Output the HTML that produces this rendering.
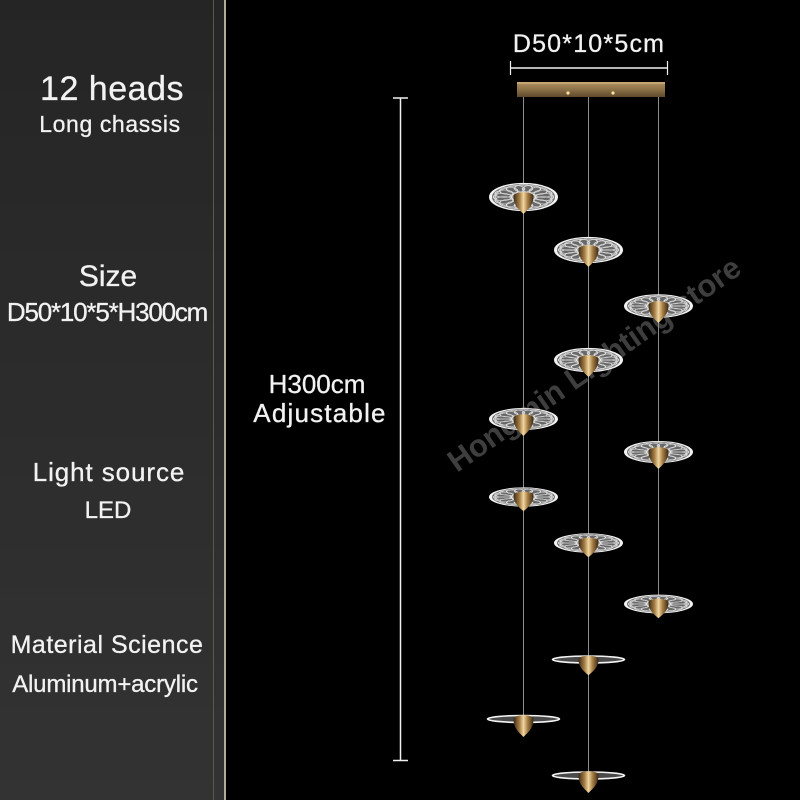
<!DOCTYPE html>
<html>
<head>
<meta charset="utf-8">
<style>
html,body{margin:0;padding:0;background:#000;}
svg{display:block;}
text{font-family:"Liberation Sans",sans-serif;fill:#f2f2f2;}
</style>
</head>
<body>
<svg width="800" height="800" viewBox="0 0 800 800" xmlns="http://www.w3.org/2000/svg">
<defs>
  <linearGradient id="panel" x1="0" y1="0" x2="0" y2="1">
    <stop offset="0" stop-color="#252525"/>
    <stop offset="1" stop-color="#333333"/>
  </linearGradient>
  <linearGradient id="gold" x1="0" y1="0" x2="1" y2="0">
    <stop offset="0" stop-color="#3a2a14"/>
    <stop offset="0.3" stop-color="#a57d45"/>
    <stop offset="0.5" stop-color="#f0d7a2"/>
    <stop offset="0.7" stop-color="#a98046"/>
    <stop offset="1" stop-color="#3a2812"/>
  </linearGradient>
  <linearGradient id="bar" x1="0" y1="0" x2="0" y2="1">
    <stop offset="0" stop-color="#b09060"/>
    <stop offset="0.5" stop-color="#8c7248"/>
    <stop offset="1" stop-color="#5e4a2c"/>
  </linearGradient>
  <g id="lace">
    <circle r="34" fill="#686868"/>
    <circle r="28" fill="none" stroke="#c8c8c8" stroke-width="1.6"/>
    <g fill="none" stroke="#d8d8d8" stroke-width="1.5">
      <circle cx="0" cy="-21" r="9"/><circle cx="8" cy="-19.4" r="9"/>
      <circle cx="14.8" cy="-14.8" r="9"/><circle cx="19.4" cy="-8" r="9"/>
      <circle cx="21" cy="0" r="9"/><circle cx="19.4" cy="8" r="9"/>
      <circle cx="14.8" cy="14.8" r="9"/><circle cx="8" cy="19.4" r="9"/>
      <circle cx="0" cy="21" r="9"/><circle cx="-8" cy="19.4" r="9"/>
      <circle cx="-14.8" cy="14.8" r="9"/><circle cx="-19.4" cy="8" r="9"/>
      <circle cx="-21" cy="0" r="9"/><circle cx="-19.4" cy="-8" r="9"/>
      <circle cx="-14.8" cy="-14.8" r="9"/><circle cx="-8" cy="-19.4" r="9"/>
    </g>
    <circle r="12" fill="#a8a8a8" stroke="#e6e6e6" stroke-width="1.2"/>
    <circle r="33" fill="none" stroke="#f2f2f2" stroke-width="3"/>
  </g>
  <path id="cone" d="M-10,-1 C-10,-6 10,-6 10,-1 C10,8 5,12 0,17 C-5,12 -10,8 -10,-1 Z" fill="url(#gold)"/>
</defs>

<!-- background -->
<rect width="800" height="800" fill="#000"/>
<rect x="0" y="0" width="226" height="800" fill="url(#panel)"/>
<rect x="213" y="0" width="1" height="800" fill="#5e5848"/>
<rect x="224" y="0" width="2" height="800" fill="#b3ab96"/>

<!-- left texts -->
<g stroke="#f2f2f2" stroke-width="0.3">
<text x="112" y="100" font-size="34" text-anchor="middle" letter-spacing="0.5">12 heads</text>
<text x="110" y="132" font-size="23" text-anchor="middle" letter-spacing="0.6">Long chassis</text>
<text x="108" y="286" font-size="30" text-anchor="middle">Size</text>
<text x="107" y="321" font-size="26" text-anchor="middle" letter-spacing="-1.2">D50*10*5*H300cm</text>
<text x="109" y="481" font-size="26" text-anchor="middle" letter-spacing="0.9">Light source</text>
<text x="108" y="518" font-size="24" text-anchor="middle">LED</text>
<text x="107" y="653" font-size="25" text-anchor="middle" letter-spacing="0.5">Material Science</text>
<text x="105" y="692" font-size="24" text-anchor="middle" letter-spacing="-0.2">Aluminum+acrylic</text>
</g>

<!-- watermark -->
<text x="457" y="473" font-size="31" font-weight="bold" style="fill:#3e3e3e" transform="rotate(-35 457 473)">Hongmin Lighting store</text>

<!-- vertical dimension -->
<line x1="400.5" y1="98" x2="400.5" y2="760.5" stroke="#f0f0f0" stroke-width="1.5"/>
<line x1="393" y1="98" x2="408" y2="98" stroke="#f0f0f0" stroke-width="1.5"/>
<line x1="393" y1="760.5" x2="408" y2="760.5" stroke="#f0f0f0" stroke-width="1.5"/>
<g stroke="#f2f2f2" stroke-width="0.3">
<text x="317" y="393" font-size="26" text-anchor="middle">H300cm</text>
<text x="320" y="422" font-size="26" text-anchor="middle" letter-spacing="1.2">Adjustable</text>
<text x="589" y="52" font-size="25" text-anchor="middle" letter-spacing="1.2">D50*10*5cm</text>
</g>

<!-- top dimension -->
<line x1="510" y1="68" x2="668" y2="68" stroke="#f0f0f0" stroke-width="1.5"/>
<line x1="510.5" y1="61" x2="510.5" y2="75" stroke="#f0f0f0" stroke-width="1.2"/>
<line x1="667.5" y1="61" x2="667.5" y2="75" stroke="#f0f0f0" stroke-width="1.2"/>

<!-- wires -->
<g stroke="#8c8c8c" stroke-width="1">
  <line x1="523.5" y1="96" x2="523.5" y2="719"/>
  <line x1="588.5" y1="96" x2="588.5" y2="775"/>
  <line x1="658.5" y1="96" x2="658.5" y2="604"/>
</g>

<!-- canopy -->
<rect x="517" y="82" width="148" height="15" fill="url(#bar)"/>
<rect x="517" y="82" width="148" height="2" fill="#c4a670"/>
<circle cx="568" cy="93" r="1.6" fill="#ffe0a0"/>
<circle cx="613" cy="93" r="1.6" fill="#ffe0a0"/>

<!-- lace lamps -->
<use href="#lace" transform="translate(523.5,197) scale(1,0.41)"/>
<use href="#cone" transform="translate(523.5,197)"/>

<use href="#lace" transform="translate(588.5,250) scale(1,0.38)"/>
<use href="#cone" transform="translate(588.5,250)"/>

<use href="#lace" transform="translate(658.5,306) scale(1,0.34)"/>
<use href="#cone" transform="translate(658.5,306)"/>

<use href="#lace" transform="translate(588.5,360) scale(1,0.35)"/>
<use href="#cone" transform="translate(588.5,360)"/>

<use href="#lace" transform="translate(523.5,419) scale(1,0.32)"/>
<use href="#cone" transform="translate(523.5,419)"/>

<use href="#lace" transform="translate(658.5,452) scale(1,0.32)"/>
<use href="#cone" transform="translate(658.5,452)"/>

<use href="#lace" transform="translate(523.5,497) scale(1,0.28)"/>
<use href="#cone" transform="translate(523.5,496) scale(1,0.9)"/>

<use href="#lace" transform="translate(588.5,543) scale(1,0.28)"/>
<use href="#cone" transform="translate(588.5,542) scale(1,0.9)"/>

<use href="#lace" transform="translate(658.5,604) scale(1,0.27)"/>
<use href="#cone" transform="translate(658.5,603) scale(1,0.9)"/>

<!-- plain lamps -->
<g>
  <ellipse cx="588.5" cy="659.5" rx="36" ry="3.5" fill="#4a4a4a" stroke="#f4f4f4" stroke-width="1.6"/>
  <use href="#cone" transform="translate(588.5,660) scale(1,0.9)"/>
  <ellipse cx="523.5" cy="719" rx="36" ry="3.5" fill="#4a4a4a" stroke="#f4f4f4" stroke-width="1.6"/>
  <use href="#cone" transform="translate(523.5,720)"/>
  <ellipse cx="588.5" cy="775.5" rx="36" ry="3.5" fill="#4a4a4a" stroke="#f4f4f4" stroke-width="1.6"/>
  <use href="#cone" transform="translate(588.5,776)"/>
</g>
</svg>
</body>
</html>
